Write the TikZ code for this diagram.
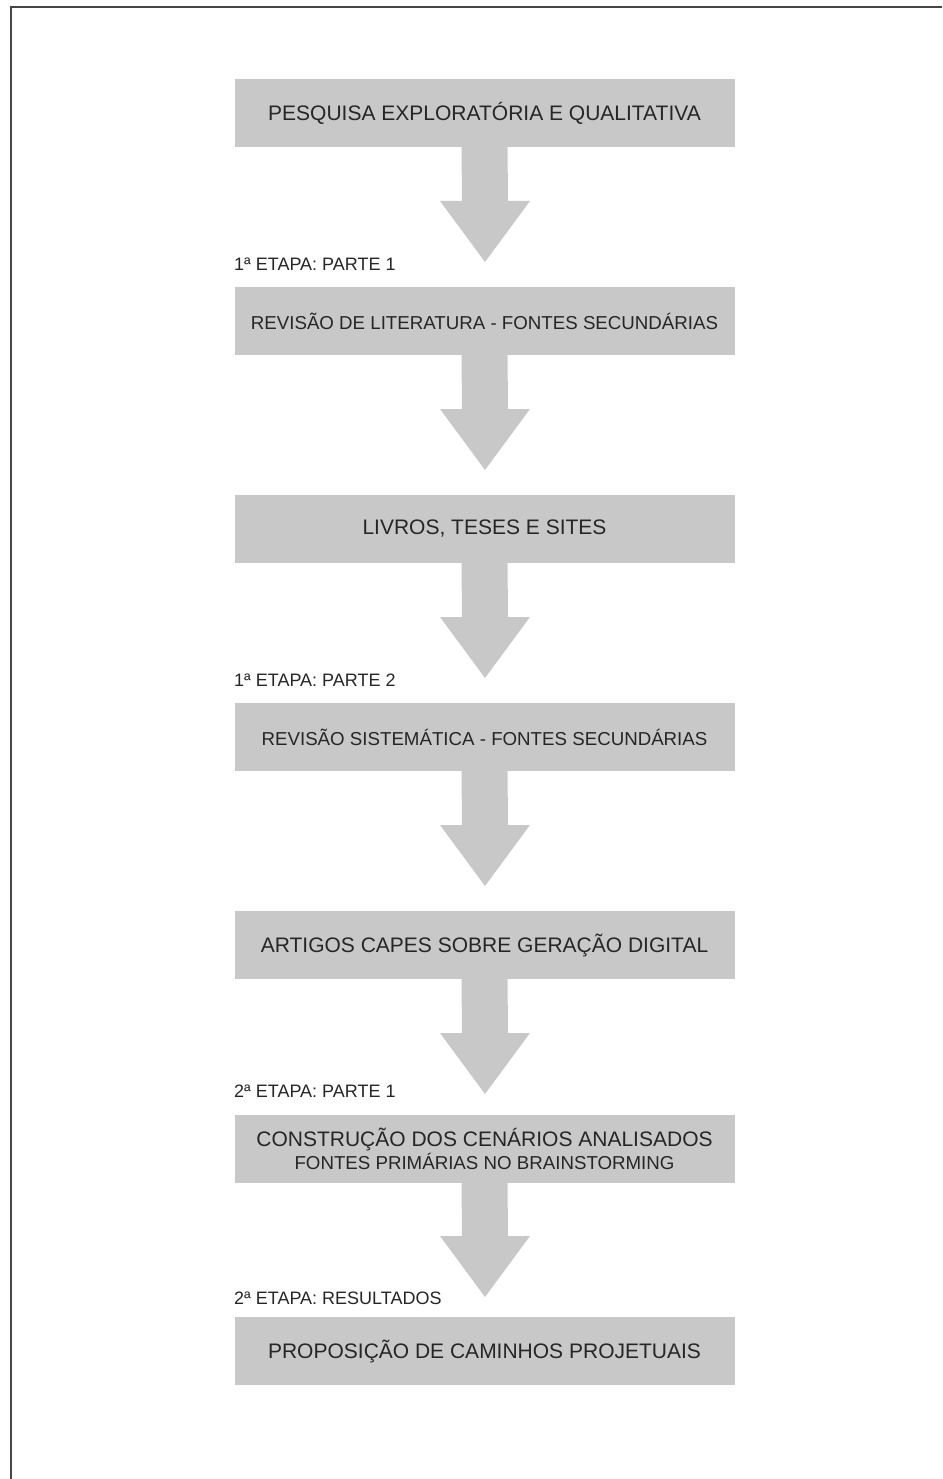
\documentclass[tikz,border=0pt]{standalone}
\usepackage{fontspec}
\setmainfont{Liberation Sans}
\usetikzlibrary{calc}
\definecolor{boxgray}{RGB}{200,200,200}
\definecolor{inkgray}{RGB}{38,38,38}
\definecolor{framegray}{RGB}{70,70,70}
\tikzset{
  stepbox/.style={fill=boxgray, minimum width=500pt, minimum height=68pt,
    inner sep=0pt, text=inkgray, font=\fontsize{21}{25}\selectfont, align=center},
  smalltext/.style={font=\fontsize{18.7}{25}\selectfont},
  stagelabel/.style={anchor=west, inner sep=0pt, text=inkgray,
    font=\fontsize{18}{21}\selectfont},
  flowarrow/.style={fill=boxgray}
}
% block arrow from the bottom of a box down to a tip coordinate
\newcommand\blockarrow[2]{%
  \fill[flowarrow] ($(#1.south)+(-23,0)$) -- ($(#2)+(-23,-61)$)
    -- ($(#2)+(-45,-61)$) -- (#2) -- ($(#2)+(45,-61)$)
    -- ($(#2)+(23,-61)$) -- ($(#1.south)+(23,0)$) -- cycle;}
\begin{document}
\begin{tikzpicture}[x=1pt, y=-1pt]
  \useasboundingbox (0,0) rectangle (942,1479);
  % frame
  \draw[framegray, line width=1.6pt] (11,1479) -- (11,7) -- (942,7);

  % boxes
  \node[stepbox] (b1) at (484.5,113) {PESQUISA EXPLORATÓRIA E QUALITATIVA};
  \node[stepbox, smalltext] (b2) at (484.5,321) {REVISÃO DE LITERATURA - FONTES SECUNDÁRIAS};
  \node[stepbox] (b3) at (484.5,529) {LIVROS, TESES E SITES};
  \node[stepbox, smalltext] (b4) at (484.5,737) {REVISÃO SISTEMÁTICA - FONTES SECUNDÁRIAS};
  \node[stepbox] (b5) at (484.5,945) {ARTIGOS CAPES SOBRE GERAÇÃO DIGITAL};
  \node[stepbox] (b6) at (484.5,1148.5) {CONSTRUÇÃO DOS CENÁRIOS ANALISADOS\\[-2pt]
    {\fontsize{18.7}{22}\selectfont FONTES PRIMÁRIAS NO BRAINSTORMING}};
  \node[stepbox] (b7) at (484.5,1351) {PROPOSIÇÃO DE CAMINHOS PROJETUAIS};

  % arrow tips
  \coordinate (t1) at (485,262);
  \coordinate (t2) at (485,470);
  \coordinate (t3) at (485,678);
  \coordinate (t4) at (485,886);
  \coordinate (t5) at (485,1094);
  \coordinate (t6) at (485,1297);

  \blockarrow{b1}{t1}
  \blockarrow{b2}{t2}
  \blockarrow{b3}{t3}
  \blockarrow{b4}{t4}
  \blockarrow{b5}{t5}
  \blockarrow{b6}{t6}

  % stage labels
  \node[stagelabel] (l1) at (234,264) {1ª ETAPA: PARTE 1};
  \node[stagelabel] (l2) at (234,680) {1ª ETAPA: PARTE 2};
  \node[stagelabel] (l3) at (234,1091) {2ª ETAPA: PARTE 1};
  \node[stagelabel] (l4) at (234,1298) {2ª ETAPA: RESULTADOS};
\end{tikzpicture}
\end{document}
